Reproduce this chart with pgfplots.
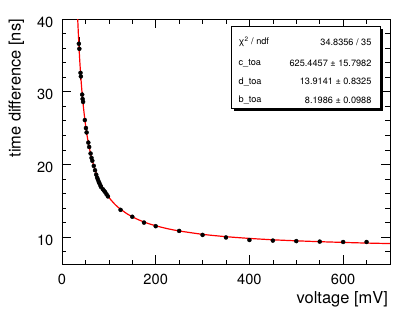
\documentclass[border=0pt]{standalone}
\usepackage{fontspec}
\setmainfont{TeX Gyre Heros}
\usepackage{pgfplots}
\pgfplotsset{compat=1.18}
\usepackage{pgfplotstable}

\pgfplotstableread{
x y e
36 36.6 0.9
37 35.9 0.7
39.5 32.6 0.5
40.2 32.1 0.5
43.1 29.6 0.4
44.0 29.0 0.4
45.0 28.6 0.4
48.8 26.1 0.3
51.1 25.0 0.3
52.5 24.4 0.3
56.2 23.0 0.3
58.0 22.4 0.25
61.0 21.5 0.25
63.0 20.9 0.25
64.7 20.5 0.2
67.8 19.8 0.2
70.5 19.2 0.2
73.0 18.6 0.2
75.0 18.2 0.2
76.6 17.9 0.2
78.5 17.6 0.2
79.9 17.4 0.2
82.0 17.1 0.2
83.2 16.9 0.2
87.0 16.6 0.2
89.5 16.4 0.2
92.0 16.2 0.2
95.0 15.9 0.2
98.0 15.6 0.2
125 13.75 0.15
150 12.8 0.12
175 12.0 0.1
200 11.5 0.1
250 10.85 0.1
300 10.3 0.1
350 9.95 0.1
400 9.6 0.1
450 9.52 0.1
500 9.45 0.1
550 9.38 0.1
600 9.33 0.1
650 9.33 0.1
}\datatable

\pgfplotstableread{
x y
33.0 40.8
35.0 37.86
37.5 34.72
40.0 32.17
42.5 30.08
45.0 28.32
50.0 25.53
55.0 23.42
60.0 21.77
65.0 20.44
70.0 19.35
75.0 18.44
80.0 17.66
85.0 17.00
90.0 16.42
95.0 15.91
100.0 15.46
110.0 14.71
120.0 14.09
140.0 13.16
160.0 12.48
180.0 11.96
200.0 11.56
225.0 11.16
250.0 10.85
300.0 10.38
350.0 10.06
400.0 9.82
450.0 9.63
500.0 9.49
550.0 9.37
600.0 9.27
650.0 9.18
700.0 9.11
}\fittable

\begin{document}
\begin{tikzpicture}
\begin{axis}[name=ax, scale only axis, width=328bp, height=245bp,
  xmin=0, xmax=700, ymin=6.3, ymax=40,
  xtick={0,200,400,600}, minor xtick={50,100,150,250,300,350,450,500,550,650},
  ytick={10,20,30,40}, minor ytick={8,12,14,16,18,22,24,26,28,32,34,36,38},
  tick align=inside, major tick length=9bp, minor tick length=4.5bp,
  tick style={black, line width=0.7pt},
  axis line style={line width=0.8pt},
  xtick pos=both, ytick pos=both,
  /pgf/number format/assume math mode=true,
  ticklabel style={font=\fontsize{14.7}{16}\selectfont, inner sep=0pt},
  xticklabel style={anchor=base, yshift=-20bp},
  yticklabel style={anchor=east, xshift=-8.5bp, yshift=-3bp},
  xlabel={voltage [mV]}, ylabel={time difference [ns]},
  label style={font=\fontsize{16.5}{18}\selectfont, inner sep=0pt},
  xlabel style={at={(rel axis cs:0.994,-0.110)}, anchor=north east},
  ylabel style={at={(rel axis cs:-0.115,1)}, anchor=south east},
  clip=true,
]
\addplot[only marks, mark=*, mark size=2bp, black,
  error bars/.cd, y dir=both, y explicit, error mark=none,
  error bar style={line width=0.7pt, black}]
  table[x=x, y=y, y error=e] {\datatable};
\addplot[red, line width=1.2pt, smooth, no marks] table[x=x, y=y] {\fittable};
% stat box
\fill[black] ([xshift=2.5bp,yshift=-2.5bp]rel axis cs:0.517,0.636) rectangle ([xshift=2.5bp,yshift=-2.5bp]rel axis cs:0.970,0.969);
\filldraw[fill=white, draw=black, line width=0.8pt] (rel axis cs:0.517,0.636) rectangle (rel axis cs:0.970,0.969);
\begin{scope}[every node/.style={font=\fontsize{9.2}{10}\selectfont, inner sep=0pt}]
\node[anchor=west] at (rel axis cs:0.538,0.907) {χ\textsuperscript{2} / ndf};
\node[anchor=east] at (rel axis cs:0.944,0.907) {34.8356 / 35};
\node[anchor=west] at (rel axis cs:0.538,0.819) {c\_toa};
\node[anchor=east] at (rel axis cs:0.944,0.819) {625.4457 ± 15.7982};
\node[anchor=west] at (rel axis cs:0.538,0.744) {d\_toa};
\node[anchor=east] at (rel axis cs:0.944,0.744) {13.9141 ± 0.8325};
\node[anchor=west] at (rel axis cs:0.538,0.669) {b\_toa};
\node[anchor=east] at (rel axis cs:0.944,0.669) {8.1986 ± 0.0988};
\end{scope}
\end{axis}
\pgfresetboundingbox
\path ([shift={(-62bp,-50bp)}]ax.south west) rectangle ([shift={(25bp,19bp)}]ax.north east);
\end{tikzpicture}
\end{document}
